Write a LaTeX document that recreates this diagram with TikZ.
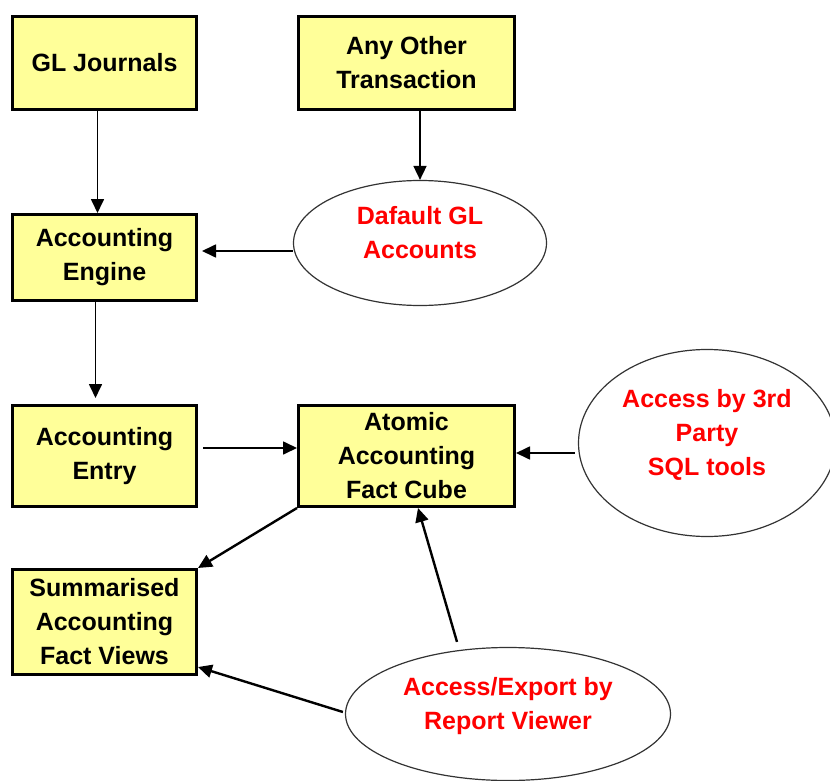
\documentclass[tikz,border=0pt]{standalone}
\usepackage{fontspec}
\setmainfont{Liberation Sans}
\usetikzlibrary{arrows.meta, shapes.geometric}
\definecolor{boxyellow}{HTML}{FFFF99}

\begin{document}
\begin{tikzpicture}[x=1pt, y=-1pt, >={Triangle[length=14pt, width=13pt]},
  box/.style={draw, line width=3pt, fill=boxyellow, align=center, inner sep=0pt,
    font=\bfseries\fontsize{25}{34}\selectfont},
  oval/.style={ellipse, draw=black!80, line width=1.2pt, fill=white, align=center,
    inner sep=0pt, text=red, text depth=22pt, font=\bfseries\fontsize{25}{34}\selectfont},
  flow/.style={->, line width=1.7pt},
  heavyflow/.style={flow, line width=2.4pt}]

\useasboundingbox (0,0) rectangle (830,781);

% -------------------------------------------------------
% 1. Source and fact boxes
% -------------------------------------------------------
\node[box, minimum width=184pt, minimum height=93pt] (gl) at (104.5,63) {GL Journals};
\node[box, minimum width=216pt, minimum height=93pt] (other) at (406.5,63) {Any Other\\Transaction};
\node[box, minimum width=184pt, minimum height=86pt] (engine) at (104.5,257.5) {Accounting\\Engine};
\node[box, minimum width=184pt, minimum height=101pt] (entry) at (104.5,456) {Accounting\\Entry};
\node[box, minimum width=216pt, minimum height=101pt] (cube) at (406.5,456) {Atomic\\Accounting\\Fact Cube};
\node[box, minimum width=184pt, minimum height=105pt] (views) at (104.5,622) {Summarised\\Accounting\\Fact Views};

% -------------------------------------------------------
% 2. Ellipses (defaults and access paths)
% -------------------------------------------------------
\node[oval, minimum width=253pt, minimum height=125pt] (dflt) at (420,243) {Dafault GL\\Accounts};
\node[oval, minimum width=257pt, minimum height=187pt] (party) at (707,443) {Access by 3rd\\Party\\SQL tools};
\node[oval, minimum width=325pt, minimum height=133pt] (viewer) at (508,714) {Access/Export by\\Report Viewer};

% -------------------------------------------------------
% 3. Flow arrows
% -------------------------------------------------------
\draw[flow] ([xshift=-7pt]gl.south) -- ([xshift=-7pt]engine.north);
\draw[flow, shorten >=6pt] ([xshift=-9pt]engine.south) -- ([xshift=-9pt]entry.north);
\draw[flow] (dflt.north |- other.south) -- (dflt.north);
\draw[flow, shorten >=4pt] ([yshift=-8pt]dflt.west) -- ([yshift=-8pt]dflt.west -| engine.east);
\draw[flow, shorten <=5pt] ([yshift=8pt]entry.east) -- ([yshift=8pt]entry.east -| cube.west);
\draw[flow, shorten <=3pt] ([yshift=-10pt]party.west) -- ([yshift=-10pt]party.west -| cube.east);
\draw[heavyflow] (cube.south west) -- (views.north east);
\draw[heavyflow] ([xshift=-51pt, yshift=5pt]viewer.north) -- ([xshift=11.5pt]cube.south);
\draw[heavyflow] ([xshift=-2pt, yshift=2pt]viewer.west) -- ([yshift=9pt]views.south east);

\end{tikzpicture}
\end{document}
